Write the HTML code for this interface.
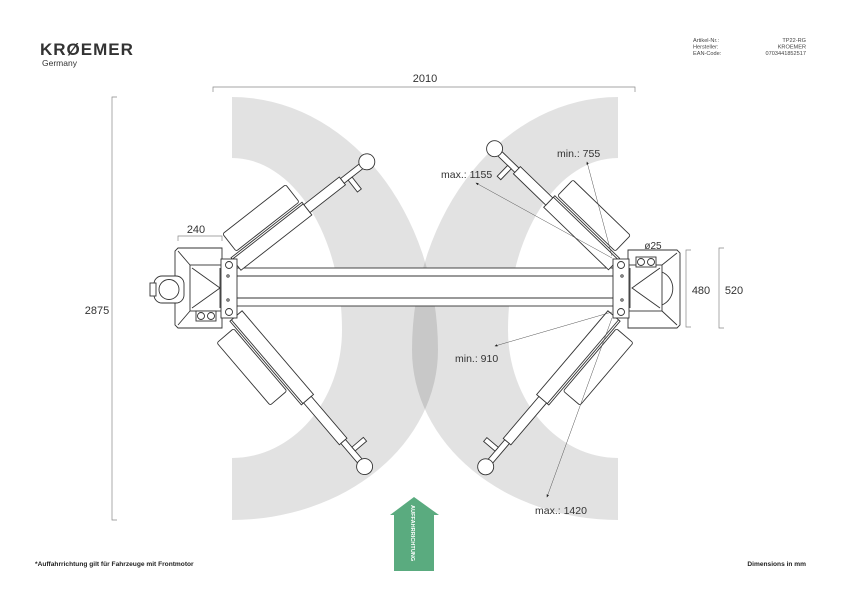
<!DOCTYPE html>
<html><head><meta charset="utf-8"><style>
html,body{margin:0;padding:0;background:#fff;}
svg{display:block;font-family:"Liberation Sans",sans-serif;}
</style></head><body>
<svg width="842" height="595" viewBox="0 0 842 595" xmlns="http://www.w3.org/2000/svg">
<defs>
<marker id="ar" markerWidth="6" markerHeight="6" refX="5" refY="3" orient="auto"><path d="M0,0.5 L6,3 L0,5.5 z" fill="#222"/></marker>
</defs>
<!-- gray arcs -->
<g fill="#000" fill-opacity="0.115" fill-rule="evenodd">
<path d="M232,97 A206,253 0 0 1 438,350 A206,170 0 0 1 232,520 V458 A110,128 0 0 0 342,330 A110,172 0 0 0 232,158 Z"/>
<path d="M618,97 A206,253 0 0 0 412,350 A206,170 0 0 0 618,520 V458 A110,128 0 0 1 508,330 A110,172 0 0 1 618,158 Z"/>
</g>

<!-- logo -->
<text x="40" y="55" font-size="17" font-weight="bold" fill="#333" letter-spacing="1">KRØEMER</text>
<text x="42" y="66" font-size="8.5" fill="#333">Germany</text>
<g font-size="5.6" fill="#444">
<text x="693" y="42">Artikel-Nr.:</text><text x="693" y="48.5">Hersteller:</text><text x="693" y="55">EAN-Code:</text>
<text x="806" y="42" text-anchor="end">TP22-RG</text><text x="806" y="48.5" text-anchor="end">KROEMER</text><text x="806" y="55" text-anchor="end">0703441852517</text>
</g>

<!-- dims -->
<g stroke="#888" stroke-width="0.7" fill="none">
<path d="M213,92 V87 H635 V92"/>
<path d="M117,97 H112 V520 H117"/>
<path d="M178,241 V236 H222 V241"/>
<path d="M691,250 H686 V327 H691"/>
<path d="M724,248 H719 V328 H724"/>
</g>

<!-- beam -->
<g fill="#fff" stroke="#333" stroke-width="0.9">
<rect x="236" y="268" width="378" height="38"/>
<line x1="236" y1="276" x2="614" y2="276"/><line x1="236" y1="298" x2="614" y2="298"/>
</g>

<!-- arms -->
<g fill="#fff" stroke="#333" stroke-width="0.9">
<g transform="translate(236,264) rotate(-38)">
<rect x="8" y="-32" width="80" height="22" rx="2"/>
<rect x="0" y="-8" width="90" height="16"/><line x1="0" y1="-6" x2="90" y2="-6"/>
<rect x="90" y="-5" width="45" height="10"/><rect x="135" y="-3" width="25" height="6"/>
<rect x="140" y="3" width="5" height="15"/>
<circle cx="166" cy="0" r="8"/>
</g>
<g transform="translate(236,316) rotate(49.5)">
<rect x="8" y="10" width="82" height="22" rx="2"/>
<rect x="0" y="-8" width="110" height="16"/><line x1="0" y1="6" x2="110" y2="6"/>
<rect x="110" y="-5" width="55" height="10"/><rect x="165" y="-3" width="28" height="6"/>
<rect x="175" y="-18" width="5" height="15"/>
<circle cx="198" cy="0" r="8"/>
</g>
<g transform="translate(614,264) rotate(224)">
<rect x="8" y="10" width="80" height="22" rx="2"/>
<rect x="0" y="-8" width="90" height="16"/><line x1="0" y1="6" x2="90" y2="6"/>
<rect x="90" y="-5" width="45" height="10"/><rect x="135" y="-3" width="25" height="6"/>
<rect x="140" y="-18" width="5" height="15"/>
<circle cx="166" cy="0" r="8"/>
</g>
<g transform="translate(614,316) rotate(130.4)">
<rect x="8" y="-32" width="82" height="22" rx="2"/>
<rect x="0" y="-8" width="110" height="16"/><line x1="0" y1="-6" x2="110" y2="-6"/>
<rect x="110" y="-5" width="55" height="10"/><rect x="165" y="-3" width="28" height="6"/>
<rect x="175" y="3" width="5" height="15"/>
<circle cx="198" cy="0" r="8"/>
</g>
</g>

<!-- left column -->
<g fill="#fff" stroke="#333" stroke-width="0.9">
<path d="M178,248 H222 V328 H178 L175,325 V251 Z"/>
<rect x="190" y="265" width="32" height="46"/>
<path d="M192,268 L220,288 L192,308 M220,268 V308" fill="none"/>
<path d="M178,251 L190,265 M178,325 L190,311" fill="none"/>
<rect x="196" y="311" width="20" height="10"/><circle cx="201" cy="316" r="3.5"/><circle cx="211" cy="316" r="3.5"/>
<rect x="154" y="276" width="30" height="27" rx="8"/><circle cx="169" cy="289.5" r="10"/>
<rect x="150" y="283" width="6" height="13"/>
<rect x="221" y="259" width="16" height="59"/>
<circle cx="229" cy="265" r="3.5"/><circle cx="229" cy="312" r="3.5"/>
<circle cx="228" cy="276" r="1.2"/><circle cx="228" cy="300" r="1.2"/>
</g>
<!-- right column -->
<g fill="#fff" stroke="#333" stroke-width="0.9">
<path d="M628,250 H677 L680,253 V325 L677,328 H628 Z"/>
<rect x="628" y="265" width="34" height="46"/>
<path d="M660,268 L632,288 L660,308 M630,268 V308" fill="none"/>
<path d="M662,272 A18,18 0 0 1 662,305" fill="none"/>
<path d="M677,253 L662,265 M677,325 L662,311" fill="none"/>
<rect x="636" y="257" width="20" height="10"/><circle cx="641" cy="262" r="3.5"/><circle cx="651" cy="262" r="3.5"/>
<rect x="613" y="259" width="16" height="59"/>
<circle cx="621" cy="265" r="3.5"/><circle cx="621" cy="312" r="3.5"/>
<circle cx="622" cy="276" r="1.2"/><circle cx="622" cy="300" r="1.2"/>
</g>

<!-- leaders -->
<g stroke="#555" stroke-width="0.5" fill="none" marker-end="url(#ar)">
<line x1="612" y1="258" x2="476" y2="183"/>
<line x1="612" y1="256" x2="587" y2="162"/>
<line x1="612" y1="312" x2="495" y2="346"/>
<line x1="612" y1="318" x2="547" y2="497"/>
</g>

<g font-size="11" fill="#333">
<text x="425" y="82" text-anchor="middle">2010</text>
<text x="97" y="314" text-anchor="middle">2875</text>
<text x="196" y="233" text-anchor="middle">240</text>
<text x="701" y="294" text-anchor="middle">480</text>
<text x="734" y="294" text-anchor="middle">520</text>
<text x="653" y="249" text-anchor="middle" font-size="10">ø25</text>
<text x="441" y="178" font-size="10.5">max.: 1155</text>
<text x="557" y="157" font-size="10.5">min.: 755</text>
<text x="455" y="362" font-size="10.5">min.: 910</text>
<text x="535" y="514" font-size="10.5">max.: 1420</text>
</g>

<!-- green arrow -->
<path d="M414,497 L439,515 H434 V571 H394 V515 H390 Z" fill="#5aab7f"/>
<text transform="translate(411,505) rotate(90)" font-size="5.6" fill="#fff" font-weight="bold">AUFFAHRRICHTUNG</text>

<text x="35" y="566" font-size="6.6" fill="#222" font-weight="bold">*Auffahrrichtung gilt für Fahrzeuge mit Frontmotor</text>
<text x="806" y="566" font-size="6.6" fill="#222" font-weight="bold" text-anchor="end">Dimensions in mm</text>
</svg>
</body></html>
